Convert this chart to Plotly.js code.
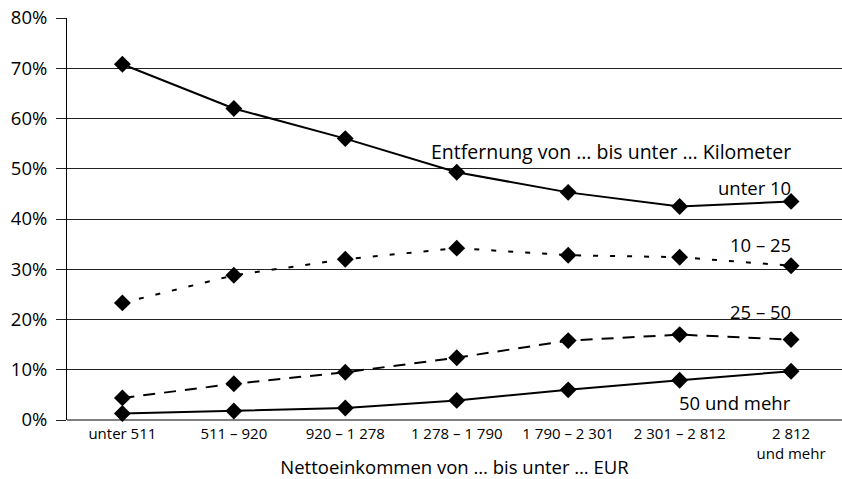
<!DOCTYPE html>
<html>
<head>
<meta charset="utf-8">
<script src="https://cdn.plot.ly/plotly-3.0.1.min.js"></script>
<style>html,body{margin:0;padding:0;background:#fff;}#chart{width:842px;height:479px;}</style>
</head>
<body>
<div id="chart"></div>
<script>
const categories = ["unter 511", "511 – 920", "920 – 1 278", "1 278 – 1 790", "1 790 – 2 301", "2 301 – 2 812", "2 812<br>und mehr"];
const unter10 = [70.8, 62.0, 56.0, 49.3, 45.3, 42.5, 43.5];
const km10_25 = [23.3, 28.8, 32.0, 34.2, 32.8, 32.4, 30.7];
const km25_50 = [4.4, 7.2, 9.5, 12.4, 15.8, 17.0, 16.0];
const km50plus = [1.3, 1.8, 2.4, 3.9, 6.0, 7.9, 9.7];
const yTicks = [0, 10, 20, 30, 40, 50, 60, 70, 80];
const yTickLabels = yTicks.map(v => v + "%");

const xIdx = categories.map((c, i) => i);
const font = "Open Sans, Noto Sans, sans-serif";
const marker = {symbol: "diamond", size: 13, color: "#000"};

function series(name, y, dash) {
  return {x: xIdx, y: y, name: name, type: "scatter", mode: "lines+markers",
    line: {color: "#000", width: 2, dash: dash}, marker: marker, cliponaxis: false};
}

const data = [
  series("unter 10", unter10, "solid"),
  series("10 – 25", km10_25, "5px,12px"),
  series("25 – 50", km25_50, "12px,9px"),
  series("50 und mehr", km50plus, "solid")
];

const ann = (text, y, size) => ({x: 6.02, y: y, xref: "x", yref: "y", text: text, showarrow: false,
  xanchor: "right", yanchor: "middle", font: {family: font, size: size || 18.5, color: "#000"}});

const layout = {
  width: 842, height: 479,
  margin: {l: 67, r: 0, t: 18, b: 59},
  paper_bgcolor: "#fff", plot_bgcolor: "#fff",
  showlegend: false,
  font: {family: font, color: "#000"},
  xaxis: {
    range: [-0.497, 6.457], tickvals: xIdx, ticktext: categories,
    showgrid: false, zeroline: false, showline: false, ticks: "",
    tickfont: {size: 15, family: font},
    ticklabelstandoff: 3,
    title: {text: "Nettoeinkommen von … bis unter … EUR", font: {size: 18.5, family: font}, standoff: 0}
  },
  yaxis: {
    range: [0, 80], tickvals: yTicks, ticktext: yTickLabels,
    showgrid: true, gridcolor: "#222", gridwidth: 1,
    zeroline: true, zerolinecolor: "#808080", zerolinewidth: 2,
    showline: true, linecolor: "#000", linewidth: 1,
    ticks: "outside", ticklen: 10, tickcolor: "#222", tickwidth: 1,
    ticklabelstandoff: 5,
    tickfont: {size: 18.5, family: font}
  },
  annotations: [
    ann("Entfernung von … bis unter … Kilometer", 53.4, 19.5),
    ann("unter 10", 46.3),
    ann("10 – 25", 34.9),
    ann("25 – 50", 21.6),
    ann("50 und mehr", 3.5)
  ]
};

Plotly.newPlot("chart", data, layout, {displayModeBar: false, staticPlot: true});
</script>
</body>
</html>
